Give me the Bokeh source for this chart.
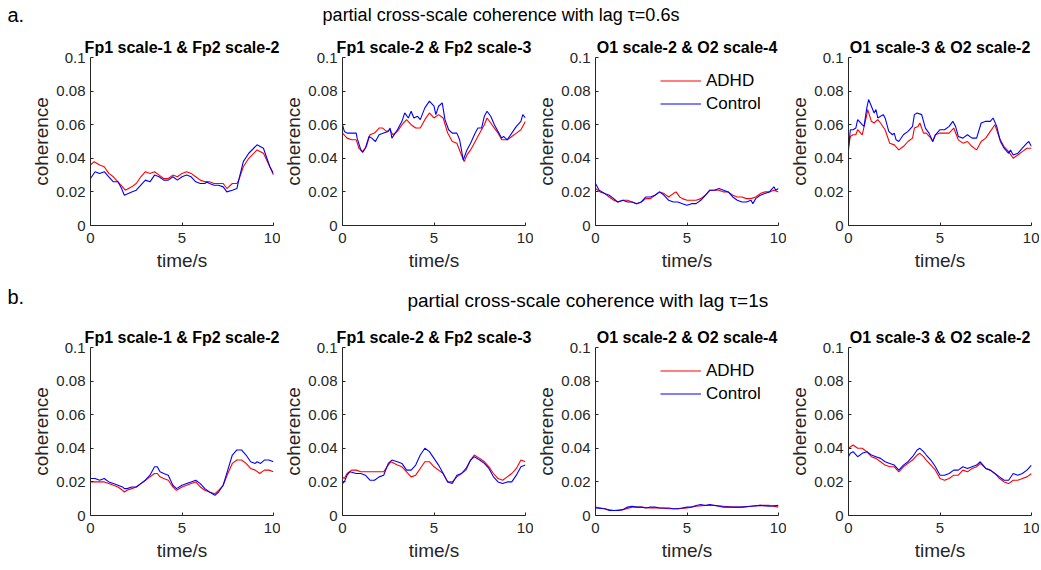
from bokeh.plotting import figure
from bokeh.layouts import column, row
from bokeh.models import Range1d, FixedTicker, CustomJSTickFormatter, ColumnDataSource
from bokeh.core.properties import value
from bokeh.embed import file_html
from bokeh.resources import INLINE

FONT = "Liberation Sans"

# ---------------- data ----------------
SUPTITLE_A = "partial cross-scale coherence with lag  \u03c4=0.6s"
SUPTITLE_B = "partial cross-scale coherence with lag  \u03c4=1s"
PANEL_TITLES = ["Fp1 scale-1 & Fp2 scale-2", "Fp1 scale-2 & Fp2 scale-3",
                "O1 scale-2 & O2 scale-4", "O1 scale-3 & O2 scale-2"]
X_TICKS = [0, 5, 10]
Y_TICKS = [0, 0.02, 0.04, 0.06, 0.08, 0.1]
SERIES = ["ADHD", "Control"]

# row a (lag 0.6 s)
A1_ADHD = [(0, .036), (0.2, .038), (0.5, .036), (0.75, .035), (1.0, .031), (1.25, .029), (1.5, .026),
           (1.75, .023), (1.9, .021), (2.25, .023), (2.5, .025), (2.75, .029), (3.0, .032), (3.25, .031),
           (3.5, .032), (3.75, .030), (4.0, .028), (4.25, .028), (4.5, .030), (4.75, .029), (5.0, .031),
           (5.25, .032), (5.5, .031), (5.75, .029), (6.0, .027), (6.25, .026), (6.5, .026), (6.75, .025),
           (7.0, .025), (7.25, .025), (7.45, .022), (7.75, .025), (8.0, .025), (8.1, .027), (8.35, .035),
           (8.65, .040), (9.1, .045), (9.45, .043), (9.8, .035), (10, .030)]
A1_CTRL = [(0, .028), (0.25, .032), (0.5, .031), (0.75, .032), (1.0, .029), (1.25, .026), (1.5, .026),
           (1.7, .022), (1.85, .018), (2.25, .020), (2.5, .021), (2.75, .024), (3.0, .027), (3.25, .026),
           (3.5, .030), (3.75, .029), (4.0, .027), (4.25, .027), (4.5, .029), (4.75, .027), (5.0, .029),
           (5.25, .030), (5.5, .029), (5.75, .026), (6.0, .025), (6.25, .025), (6.35, .026), (6.5, .025),
           (6.75, .024), (7.0, .024), (7.25, .023), (7.45, .020), (7.75, .021), (8.0, .022), (8.1, .027),
           (8.35, .038), (8.65, .043), (9.1, .048), (9.45, .046), (9.8, .035), (10, .031)]

A2_ADHD = [(0, .055), (0.25, .052), (0.5, .051), (0.75, .051), (0.9, .046), (1.1, .044), (1.3, .047),
           (1.5, .054), (1.75, .055), (2.0, .058), (2.2, .058), (2.4, .056), (2.6, .057), (2.75, .054),
           (3.0, .056), (3.25, .060), (3.5, .063), (3.75, .060), (4.0, .058), (4.25, .058), (4.5, .063),
           (4.75, .067), (5.0, .064), (5.25, .066), (5.5, .064), (5.75, .055), (6.0, .050), (6.25, .049),
           (6.5, .042), (6.65, .038), (6.8, .042), (7.0, .045), (7.25, .050), (7.5, .055), (7.75, .060),
           (7.9, .064), (8.1, .061), (8.3, .058), (8.5, .055), (8.7, .051), (9.0, .051), (9.25, .053),
           (9.5, .055), (9.75, .057), (10, .062)]
A2_CTRL = [(0, .060), (0.1, .056), (0.25, .055), (0.5, .055), (0.75, .055), (0.8, .052), (1.0, .045),
           (1.1, .0435), (1.25, .046), (1.45, .053), (1.6, .052), (1.8, .050), (2.0, .054), (2.25, .055),
           (2.5, .056), (2.6, .058), (2.7, .052), (3.0, .057), (3.25, .062), (3.4, .067), (3.6, .064),
           (3.75, .068), (3.9, .064), (4.1, .065), (4.25, .063), (4.5, .070), (4.75, .074), (5.0, .071),
           (5.1, .066), (5.25, .071), (5.45, .073), (5.6, .063), (5.8, .057), (6.0, .055), (6.25, .055),
           (6.4, .051), (6.6, .039), (6.8, .045), (7.0, .049), (7.25, .055), (7.4, .058), (7.6, .058),
           (7.75, .065), (7.9, .068), (8.1, .065), (8.3, .060), (8.5, .056), (8.7, .052), (8.8, .053),
           (9.0, .051), (9.25, .055), (9.5, .059), (9.75, .062), (9.85, .066), (10, .064)]

A3_ADHD = [(0, .022), (0.25, .020), (0.5, .019), (0.75, .017), (1.0, .015), (1.25, .014), (1.5, .015),
           (1.75, .015), (2.0, .014), (2.25, .013), (2.5, .014), (2.75, .016), (3.0, .016), (3.25, .018),
           (3.5, .020), (3.75, .019), (4.0, .017), (4.25, .019), (4.4, .020), (4.6, .017), (4.75, .016),
           (5.0, .015), (5.25, .015), (5.5, .015), (5.75, .016), (6.0, .018), (6.25, .021), (6.5, .021),
           (6.75, .021), (7.0, .020), (7.25, .020), (7.5, .018), (7.75, .017), (8.0, .017), (8.25, .016),
           (8.5, .016), (8.75, .017), (9.0, .019), (9.25, .020), (9.5, .020), (9.75, .021), (10, .020)]
A3_CTRL = [(0, .025), (0.2, .021), (0.5, .019), (0.75, .018), (1.0, .016), (1.2, .014), (1.5, .015),
           (1.75, .014), (2.0, .014), (2.25, .013), (2.5, .014), (2.75, .017), (3.0, .017), (3.25, .018),
           (3.5, .020), (3.75, .018), (4.0, .015), (4.25, .014), (4.5, .014), (4.75, .013), (5.0, .012),
           (5.25, .013), (5.5, .013), (5.75, .015), (6.0, .018), (6.25, .021), (6.5, .021), (6.75, .022),
           (7.0, .021), (7.25, .020), (7.5, .017), (7.75, .015), (8.0, .014), (8.25, .014), (8.5, .015),
           (8.6, .013), (8.75, .016), (9.0, .018), (9.25, .019), (9.5, .020), (9.75, .023), (9.85, .021),
           (10, .022)]

A4_ADHD = [(0, .047), (0.1, .053), (0.25, .054), (0.4, .054), (0.5, .057), (0.75, .054), (1.0, .066),
           (1.05, .069), (1.25, .062), (1.4, .061), (1.6, .063), (1.75, .061), (2.0, .057), (2.25, .049),
           (2.5, .048), (2.75, .045), (3.0, .047), (3.25, .050), (3.5, .052), (3.6, .058), (3.8, .059),
           (3.9, .061), (4.1, .055), (4.25, .055), (4.5, .052), (4.6, .050), (4.75, .054), (5.0, .055),
           (5.25, .055), (5.5, .055), (5.75, .058), (6.0, .051), (6.25, .049), (6.5, .050), (6.75, .047),
           (7.0, .045), (7.25, .050), (7.5, .052), (7.75, .056), (8.0, .060), (8.25, .052), (8.5, .047),
           (8.75, .044), (9.0, .040), (9.25, .042), (9.5, .044), (9.75, .046), (10, .046)]
A4_CTRL = [(0, .045), (0.1, .057), (0.25, .057), (0.4, .058), (0.5, .063), (0.75, .060), (0.85, .059),
           (1.0, .070), (1.1, .075), (1.25, .071), (1.4, .067), (1.5, .069), (1.6, .064), (1.75, .065),
           (1.9, .066), (2.0, .064), (2.2, .056), (2.4, .054), (2.5, .055), (2.6, .051), (2.75, .050),
           (3.0, .054), (3.25, .056), (3.5, .059), (3.6, .066), (3.75, .067), (4.0, .066), (4.2, .058),
           (4.4, .055), (4.6, .050), (4.75, .054), (5.0, .057), (5.25, .057), (5.5, .059), (5.7, .062),
           (5.85, .059), (6.0, .053), (6.25, .052), (6.5, .054), (6.75, .052), (7.0, .052), (7.25, .061),
           (7.5, .062), (7.75, .062), (7.9, .064), (8.1, .059), (8.3, .050), (8.5, .046), (8.75, .043),
           (8.85, .045), (9.0, .042), (9.25, .043), (9.5, .046), (9.75, .049), (9.85, .050), (10, .047)]

# row b (lag 1 s)
B1_ADHD = [(0, .020), (0.25, .020), (0.5, .020), (0.75, .020), (1.0, .019), (1.25, .018), (1.5, .017),
           (1.75, .015), (1.85, .014), (2.0, .015), (2.25, .016), (2.5, .017), (2.75, .019), (3.0, .021),
           (3.25, .023), (3.5, .025), (3.65, .025), (3.8, .023), (4.0, .022), (4.25, .021), (4.5, .017),
           (4.7, .015), (5.0, .017), (5.25, .018), (5.5, .019), (5.75, .020), (6.0, .017), (6.25, .015),
           (6.5, .014), (6.8, .013), (7.0, .015), (7.25, .018), (7.5, .025), (7.75, .031), (8.0, .033),
           (8.25, .033), (8.5, .031), (8.75, .028), (9.0, .027), (9.25, .025), (9.5, .027), (9.75, .027),
           (10, .026)]
B1_CTRL = [(0, .022), (0.25, .022), (0.5, .021), (0.75, .022), (1.0, .020), (1.25, .019), (1.5, .018),
           (1.75, .017), (1.85, .016), (2.0, .016), (2.25, .017), (2.5, .017), (2.75, .019), (3.0, .021),
           (3.25, .024), (3.5, .029), (3.65, .029), (3.8, .026), (4.0, .025), (4.25, .024), (4.5, .018),
           (4.7, .016), (5.0, .018), (5.25, .019), (5.5, .020), (5.75, .021), (6.0, .019), (6.25, .016),
           (6.5, .014), (6.8, .012), (7.0, .014), (7.25, .018), (7.5, .027), (7.75, .036), (8.0, .039),
           (8.25, .039), (8.5, .036), (8.75, .032), (9.0, .031), (9.1, .032), (9.3, .031), (9.5, .033),
           (9.75, .033), (10, .032)]

B2_ADHD = [(0, .023), (0.1, .022), (0.25, .025), (0.5, .027), (0.75, .027), (1.0, .026), (1.25, .026),
           (1.5, .026), (1.75, .026), (2.0, .026), (2.25, .026), (2.5, .030), (2.65, .032), (3.0, .030),
           (3.25, .029), (3.5, .026), (3.75, .023), (4.0, .024), (4.25, .028), (4.5, .032), (4.75, .032),
           (5.0, .029), (5.25, .027), (5.5, .025), (5.75, .020), (6.0, .020), (6.25, .023), (6.5, .025),
           (6.75, .027), (7.0, .033), (7.2, .036), (7.5, .034), (7.75, .032), (8.0, .029), (8.25, .025),
           (8.5, .022), (8.75, .021), (9.0, .023), (9.25, .025), (9.5, .028), (9.75, .033), (10, .032)]
B2_CTRL = [(0, .019), (0.1, .020), (0.25, .024), (0.4, .026), (0.75, .025), (1.0, .025), (1.25, .024),
           (1.5, .021), (1.75, .021), (2.0, .023), (2.25, .024), (2.5, .031), (2.7, .033), (3.0, .032),
           (3.25, .031), (3.5, .027), (3.75, .027), (4.0, .030), (4.25, .036), (4.5, .040), (4.75, .038),
           (5.0, .034), (5.25, .030), (5.5, .025), (5.75, .020), (6.0, .019), (6.25, .024), (6.5, .025),
           (6.75, .028), (7.0, .033), (7.2, .035), (7.5, .033), (7.75, .031), (8.0, .028), (8.25, .023),
           (8.5, .020), (8.75, .019), (9.0, .020), (9.25, .020), (9.5, .024), (9.75, .029), (10, .030)]

B3_ADHD = [(0, .005), (0.5, .004), (1.0, .003), (1.5, .0035), (2.0, .005), (2.5, .005), (3.0, .0045),
           (3.5, .0045), (4.0, .004), (4.5, .004), (5.0, .0045), (5.5, .0055), (6.0, .006), (6.5, .006),
           (7.0, .0055), (7.5, .005), (8.0, .005), (8.5, .0055), (9.0, .006), (9.5, .006), (10, .005)]
B3_CTRL = [(0, .0045), (0.5, .004), (0.75, .003), (1.0, .003), (1.25, .003), (1.5, .0035), (1.75, .005),
           (2.0, .0055), (2.25, .005), (2.5, .005), (2.75, .0045), (3.0, .005), (3.25, .005), (3.5, .0045),
           (3.75, .0045), (4.0, .0045), (4.25, .004), (4.5, .004), (4.75, .0045), (5.0, .005), (5.25, .005),
           (5.5, .006), (5.75, .0065), (6.0, .006), (6.25, .0065), (6.5, .006), (6.75, .0055), (7.0, .005),
           (7.5, .005), (8.0, .005), (8.5, .0055), (9.0, .006), (9.5, .0055), (10, .006)]

B4_ADHD = [(0, .040), (0.25, .042), (0.5, .040), (0.75, .040), (1.0, .038), (1.25, .035), (1.5, .034),
           (1.75, .032), (2.0, .030), (2.25, .029), (2.5, .029), (2.75, .026), (3.0, .029), (3.25, .031),
           (3.5, .033), (3.75, .036), (3.9, .037), (4.1, .035), (4.25, .033), (4.5, .030), (4.75, .027),
           (5.0, .022), (5.25, .021), (5.5, .022), (5.75, .024), (6.0, .024), (6.25, .027), (6.5, .026),
           (6.75, .028), (7.0, .029), (7.2, .031), (7.5, .028), (7.75, .027), (8.0, .025), (8.25, .022),
           (8.5, .020), (8.75, .019), (9.0, .021), (9.25, .021), (9.5, .022), (9.75, .023), (10, .025)]
B4_CTRL = [(0, .035), (0.1, .037), (0.25, .038), (0.5, .035), (0.75, .037), (1.0, .038), (1.25, .036),
           (1.5, .035), (1.75, .034), (2.0, .032), (2.25, .031), (2.5, .030), (2.75, .027), (3.0, .030),
           (3.25, .032), (3.5, .035), (3.75, .039), (3.9, .040), (4.1, .038), (4.25, .036), (4.5, .033),
           (4.75, .029), (5.0, .024), (5.25, .024), (5.5, .025), (5.75, .027), (6.0, .027), (6.25, .029),
           (6.5, .028), (6.75, .029), (7.0, .030), (7.2, .032), (7.5, .028), (7.75, .027), (8.0, .025),
           (8.25, .023), (8.5, .021), (8.75, .021), (9.0, .025), (9.25, .024), (9.5, .025), (9.75, .027),
           (10, .030)]

ROW_A = [(A1_ADHD, A1_CTRL), (A2_ADHD, A2_CTRL), (A3_ADHD, A3_CTRL), (A4_ADHD, A4_CTRL)]
ROW_B = [(B1_ADHD, B1_CTRL), (B2_ADHD, B2_CTRL), (B3_ADHD, B3_CTRL), (B4_ADHD, B4_CTRL)]

# ---------------- styling ----------------
AX = "#262626"
RED = "#ff0000"
BLUE = "#0000ff"
FRAME_W, FRAME_H = 183, 168


def header(h, letter, title, letter_y, title_x, title_y, title_size):
    p = figure(width=1041, height=h, x_range=Range1d(0, 1041), y_range=Range1d(h, 0),
               toolbar_location=None, output_backend="svg", min_border=0,
               x_axis_location=None, y_axis_location=None)
    p.grid.visible = False
    p.outline_line_color = None
    p.text(x=[7], y=[letter_y], text=[letter], text_font=value(FONT), text_font_size="20px",
           text_baseline="middle", text_align="left", text_color="black")
    p.text(x=[title_x], y=[title_y], text=[title], text_font=value(FONT),
           text_font_size=title_size, text_baseline="middle", text_align="center", text_color="black")
    return p


def panel(title, adhd, ctrl, left, top, bottom, right, with_legend):
    p = figure(frame_width=FRAME_W, frame_height=FRAME_H, x_range=Range1d(0, 10),
               y_range=Range1d(0, 0.1), toolbar_location=None, output_backend="svg",
               min_border_left=left, min_border_right=right, min_border_top=top,
               min_border_bottom=bottom, title=title)
    p.title.text_font = FONT
    p.title.text_font_size = "16px"
    p.title.text_font_style = "bold"
    p.title.align = "center"
    p.title.text_color = "black"
    p.title.standoff = 4
    p.grid.visible = False
    p.outline_line_color = None
    p.background_fill_color = "white"
    for ax in (p.xaxis[0], p.yaxis[0]):
        ax.axis_line_color = AX
        ax.major_tick_line_color = AX
        ax.major_tick_in = 3
        ax.major_tick_out = 0
        ax.minor_tick_line_color = None
        ax.major_label_text_font = FONT
        ax.major_label_text_font_size = "15px"
        ax.major_label_text_color = AX
        ax.axis_label_text_font = FONT
        ax.axis_label_text_font_size = "19px"
        ax.axis_label_text_font_style = "normal"
        ax.axis_label_text_color = AX
    p.xaxis.ticker = FixedTicker(ticks=X_TICKS)
    p.yaxis.ticker = FixedTicker(ticks=Y_TICKS)
    p.yaxis.formatter = CustomJSTickFormatter(
        code="var s = tick.toFixed(2).replace(/0+$/, ''); return s.replace(/\\.$/, '');")
    p.xaxis.axis_label = "time/s"
    p.yaxis.axis_label = "coherence"
    p.xaxis.major_label_standoff = 7
    p.yaxis.major_label_standoff = 5
    p.xaxis.axis_label_standoff = 4
    p.yaxis.axis_label_standoff = 1

    for data, color, name in ((adhd, RED, SERIES[0]), (ctrl, BLUE, SERIES[1])):
        src = ColumnDataSource(dict(t=[d[0] for d in data], v=[d[1] for d in data]))
        kw = dict(legend_label=name) if with_legend else {}
        p.line("t", "v", source=src, line_color=color, line_width=1.1, **kw)

    if with_legend:
        lg = p.legend[0]
        lg.location = "top_right"
        lg.border_line_alpha = 0
        lg.background_fill_alpha = 0
        lg.glyph_width = 41
        lg.glyph_height = 23
        lg.label_height = 23
        lg.label_width = 60
        lg.spacing = 0
        lg.padding = 5
        lg.margin = 7
        lg.label_standoff = 5
        lg.label_text_font = FONT
        lg.label_text_font_size = "17px"
        lg.label_text_color = "black"
    return p


def panel_row(rowdata, top, bottom):
    figs = []
    for i, (title, (adhd, ctrl)) in enumerate(zip(PANEL_TITLES, rowdata)):
        left = 90 if i == 0 else 62
        right = 7 if i == 0 else 8
        figs.append(panel(title, adhd, ctrl, left, top, bottom, right, i == 2))
    return row(*figs, spacing=0)


head_a = header(30, "a.", SUPTITLE_A, 14, 503, 14, "18px")
row_a = panel_row(ROW_A, 27, 52)
head_b = header(43, "b.", SUPTITLE_B, 19, 590, 23, "19px")
row_b = panel_row(ROW_B, 27, 55)

layout = column(head_a, row_a, head_b, row_b, spacing=0)

open("out.html", "w").write(file_html(layout, INLINE))
